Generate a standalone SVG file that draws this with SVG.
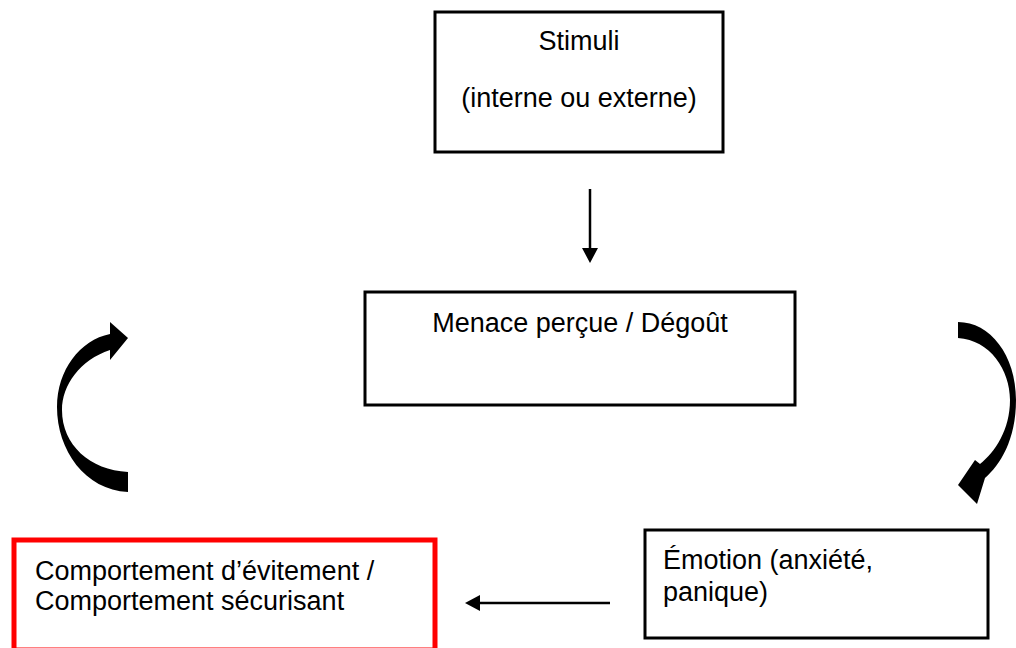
<svg xmlns="http://www.w3.org/2000/svg" width="1016" height="648" viewBox="0 0 1016 648">
<style>
.box{fill:#fff;stroke:#000;stroke-width:3}
.red{fill:#fff;stroke:#f00;stroke-width:5}
.t{font-family:"Liberation Sans",Arial,sans-serif;font-size:27px;fill:#000}
.c{text-anchor:middle}
.ln{stroke:#000;stroke-width:2.5;fill:none}
.blk{fill:#000;stroke:none}
</style>
<defs>
<marker id="ah" viewBox="0 0 16 16" refX="7" refY="8" markerWidth="16" markerHeight="16" markerUnits="userSpaceOnUse" orient="auto">
<path d="M0,0 L15,8 L0,16 Z" fill="#000"/>
</marker>
</defs>
<rect width="1016" height="648" fill="#fff"/>
<g id="stimuli">
<rect class="box" x="435" y="12" width="288" height="140"/>
<text class="t c" x="579" y="50">Stimuli</text>
<text class="t c" x="579" y="107">(interne ou externe)</text>
</g>
<g id="menace">
<rect class="box" x="365" y="292" width="430" height="113"/>
<text class="t c" x="580" y="332">Menace perçue / Dégoût</text>
</g>
<g id="emotion">
<rect class="box" x="645" y="530" width="343" height="108"/>
<text class="t" x="663" y="569">Émotion (anxiété,</text>
<text class="t" x="663" y="601">panique)</text>
</g>
<g id="comportement">
<rect class="red" x="14" y="540" width="421" height="110"/>
<text class="t" x="35" y="580">Comportement d’évitement /</text>
<text class="t" x="35" y="610">Comportement sécurisant</text>
</g>
<g id="connectors">
<line class="ln" x1="590" y1="189" x2="590" y2="255" marker-end="url(#ah)"/>
<line class="ln" x1="610" y1="603" x2="473" y2="603" marker-end="url(#ah)"/>
<path class="blk" d="M128,492 C85,490 57,450 57,407 C57,370 80,340 110,334 L110,322 L128,338 L110,360 L110,350 C80,360 62,385 62,410 C62,445 90,470 128,472 Z"/>
<path class="blk" d="M958,322 C990,322 1016,355 1016,400 C1016,440 1000,465 985,478 L977,504 L958,485 L975,460 L980,464 C995,452 1010,430 1010,400 C1010,370 990,340 958,338 Z"/>
</g>
</svg>
